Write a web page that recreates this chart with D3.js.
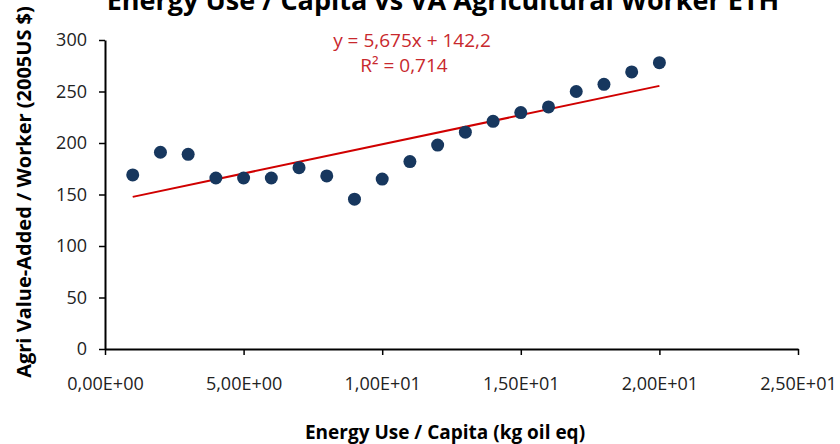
<!DOCTYPE html>
<html>
<head>
<meta charset="utf-8">
<script src="https://cdn.jsdelivr.net/npm/d3@7"></script>
<style>
  body { margin: 0; background: #fff; }
  svg { display: block; font-family: "Open Sans", "Noto Sans", sans-serif; }
</style>
</head>
<body>
<svg id="chart" width="840" height="444"></svg>
<script>
// energy use per capita vs agri value-added per worker
var energyUse = [1, 2, 3, 4, 5, 6, 7, 8, 9, 10, 11, 12, 13, 14, 15, 16, 17, 18, 19, 20];
var agriValue = [169, 191, 189, 166, 166, 166, 176, 168, 145.5, 165, 182, 198, 210.5, 221, 229.5, 235, 250, 257, 269, 278];
var xTicks = [0, 5, 10, 15, 20, 25];
var yTicks = [0, 50, 100, 150, 200, 250, 300];
var eqLabel = "y = 5,675x + 142,2";
var r2Label = "R² = 0,714";

var svg = d3.select("#chart");

var x = d3.scaleLinear().domain([0, 25]).range([105, 798]);
var y = d3.scaleLinear().domain([0, 300]).range([349, 40]);

// excel style 0,00E+00
function sciFmt(v) {
    var s = v.toExponential(2).split("e");
    var ex = parseInt(s[1]);
    var exs = (ex < 0 ? "-" : "+") + (Math.abs(ex) < 10 ? "0" : "") + Math.abs(ex);
    return s[0].replace(".", ",") + "E" + exs;
}

// title (cut off at top like the source)
svg.append("text")
    .attr("x", 443)
    .attr("y", 10)
    .attr("text-anchor", "middle")
    .attr("font-size", 27)
    .attr("font-weight", "bold")
    .attr("fill", "#000")
    .text("Energy Use / Capita vs VA Agricultural Worker ETH");

// axes
var yAxis = svg.append("g")
    .attr("transform", "translate(" + x(0) + ",0)")
    .call(d3.axisLeft(y).tickValues(yTicks).tickSize(6).tickSizeOuter(0).tickPadding(12));

var xAxis = svg.append("g")
    .attr("transform", "translate(0," + y(0) + ")")
    .call(d3.axisBottom(x).tickValues(xTicks).tickFormat(sciFmt).tickSize(6).tickSizeOuter(0).tickPadding(22));

[yAxis, xAxis].forEach(function(ax) {
    ax.select(".domain").attr("stroke", "#000").attr("stroke-width", 2);
    ax.selectAll(".tick line").attr("stroke", "#000").attr("stroke-width", 1.5);
    ax.selectAll(".tick text")
        .attr("font-family", "'Open Sans', sans-serif")
        .attr("font-size", 18)
        .attr("fill", "#222");
});

// axis titles
svg.append("text")
    .attr("x", 445)
    .attr("y", 439)
    .attr("text-anchor", "middle")
    .attr("font-size", 19)
    .attr("font-weight", "bold")
    .text("Energy Use / Capita (kg oil eq)");

svg.append("text")
    .attr("transform", "translate(31,192) rotate(-90)")
    .attr("text-anchor", "middle")
    .attr("font-size", 20)
    .attr("font-weight", "bold")
    .text("Agri Value-Added / Worker (2005US $)");

// linear trend (least squares)
var n = energyUse.length;
var mx = d3.mean(energyUse), my = d3.mean(agriValue);
var sxy = 0, sxx = 0;
for (var i = 0; i < n; i++) {
    sxy += (energyUse[i] - mx) * (agriValue[i] - my);
    sxx += (energyUse[i] - mx) * (energyUse[i] - mx);
}
var slope = sxy / sxx;
var intercept = my - slope * mx;
var x0 = d3.min(energyUse), x1 = d3.max(energyUse);

svg.append("line")
    .attr("x1", x(x0))
    .attr("y1", y(intercept + slope * x0))
    .attr("x2", x(x1))
    .attr("y2", y(intercept + slope * x1))
    .attr("stroke", "#d00000")
    .attr("stroke-width", 2);

// points
svg.append("g")
    .selectAll("circle")
    .data(energyUse)
    .enter()
    .append("circle")
    .attr("cx", function(d) { return x(d); })
    .attr("cy", function(d, i) { return y(agriValue[i]); })
    .attr("r", 6.5)
    .attr("fill", "#17375e");

// equation label
svg.append("text")
    .attr("x", 412)
    .attr("y", 47)
    .attr("text-anchor", "middle")
    .attr("font-size", 19)
    .attr("fill", "#c8282d")
    .text(eqLabel);

svg.append("text")
    .attr("x", 404)
    .attr("y", 72)
    .attr("text-anchor", "middle")
    .attr("font-size", 19)
    .attr("fill", "#c8282d")
    .text(r2Label);
</script>
</body>
</html>
